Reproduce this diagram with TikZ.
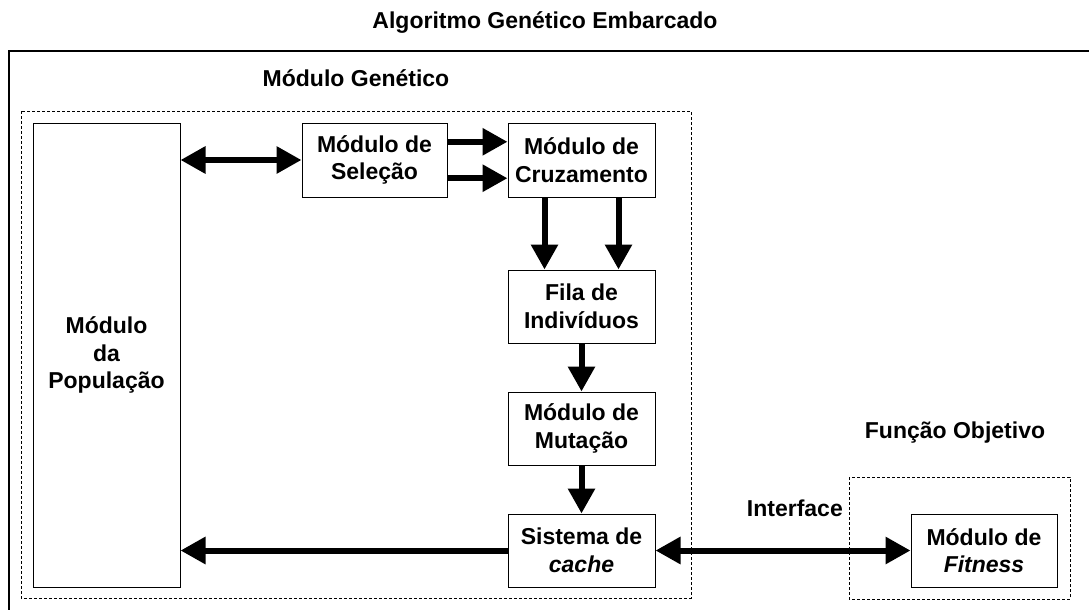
\documentclass[tikz,border=0pt]{standalone}
\usepackage{fontspec}
\setmainfont{Liberation Sans}
\usetikzlibrary{arrows.meta,calc}
\begin{document}
\begin{tikzpicture}[x=1pt,y=-1pt,
  every node/.style={font=\fontsize{23}{27.5}\selectfont\bfseries},
  box/.style={draw,line width=1pt,align=center,inner sep=0pt},
  dbox/.style={draw,line width=1pt,dash pattern=on 3pt off 2pt},
  flow/.style={line width=6pt,-{Triangle[length=25pt,width=26pt]}},
  flow2/.style={line width=6pt,{Triangle[length=25pt,width=26pt]}-{Triangle[length=25pt,width=26pt]}},
  lbl/.style={inner sep=0pt}]
\useasboundingbox (0,0) rectangle (1089,610);
\fill[white] (0,0) rectangle (1089,610);
% outer frame (clipped at the right and bottom)
\begin{scope}
\clip (0,0) rectangle (1089,610);
\draw[line width=2pt] (9,51) rectangle (1100,620);
\end{scope}
\node[lbl] (title) at (545,23) {Algoritmo Genético Embarcado};
% dashed groups
\draw[dbox] (21,111) rectangle (691,598);
\node[lbl] (mg) at (356,78) {Módulo Genético};
\draw[dbox] (849,477) rectangle (1070,599);
\node[lbl] (fo) at (955,433) {Função Objetivo};
\node[lbl,anchor=east] (intf) at (843,508) {Interface};
% boxes
\node[box,minimum width=147pt,minimum height=464pt] (pop) at (106.5,355) {Módulo\\da\\População};
\node[box,minimum width=145pt,minimum height=74pt] (sel) at (374.5,160) {Módulo de\\Seleção};
\node[box,minimum width=147pt,minimum height=74pt] (cru) at (581.5,160) {Módulo de\\Cruzamento};
\node[box,minimum width=147pt,minimum height=73pt] (fila) at (581.5,306.5) {Fila de\\Indivíduos};
\node[box,minimum width=147pt,minimum height=73pt] (mut) at (581.5,428.5) {Módulo de\\Mutação};
\node[box,minimum width=147pt,minimum height=73pt] (cache) at (581.5,550.5) {Sistema de\\\textit{cache}};
\node[box,minimum width=146pt,minimum height=73pt] (fit) at (984,550.5) {Módulo de\\\textit{Fitness}};
% connectors
\draw[flow2] (pop.east |- sel.west) -- (sel.west);
\draw[flow] ($(sel.north east)!0.257!(sel.south east)$) -- ($(cru.north west)!0.257!(cru.south west)$);
\draw[flow] ($(sel.north east)!0.743!(sel.south east)$) -- ($(cru.north west)!0.743!(cru.south west)$);
\draw[flow] ($(cru.south west)!0.25!(cru.south east)$) -- ($(fila.north west)!0.25!(fila.north east)$);
\draw[flow] ($(cru.south west)!0.75!(cru.south east)$) -- ($(fila.north west)!0.75!(fila.north east)$);
\draw[flow] (fila.south) -- (mut.north);
\draw[flow] (mut.south) -- (cache.north);
\draw[flow] (cache.west) -- (cache.west -| pop.east);
\draw[flow2] (cache.east) -- (fit.west);
\end{tikzpicture}
\end{document}
